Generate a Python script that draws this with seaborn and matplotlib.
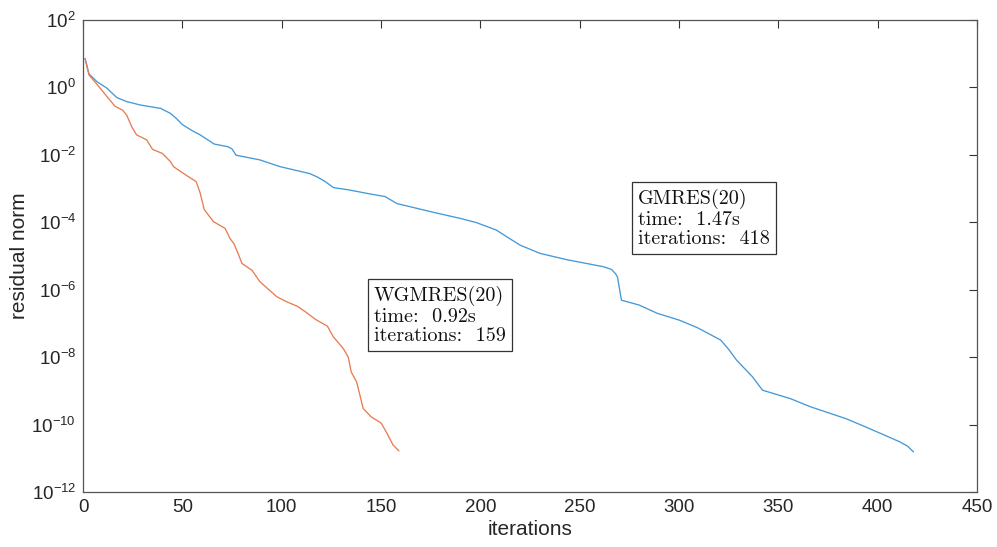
import matplotlib
matplotlib.use("Agg")
import matplotlib.pyplot as plt
import matplotlib.ticker as mticker
import seaborn as sns
import pandas as pd

# GMRES(20) residual history
gmres_iter = [1, 3, 7, 12, 17, 22, 29, 39, 44, 47, 50, 55, 59, 66, 73, 75, 77, 89, 99, 114, 118,
              122, 126, 134, 143, 152, 158, 176, 190, 198, 208, 214, 220, 230, 243, 262, 266, 268, 269,
              271, 280, 289, 300, 309, 316, 321, 325, 329, 337, 342, 356, 366, 384, 394, 411, 415, 418]
gmres_res = [7.24, 2.51, 1.48, 0.955, 0.50, 0.38, 0.30, 0.24, 0.17, 0.12, 0.079, 0.052, 0.039, 0.021,
             0.0174, 0.015, 0.0098, 0.0071, 0.0045, 0.0028, 0.0022, 1.6e-3, 1.07e-3, 9.1e-4, 7.2e-4,
             5.8e-4, 3.6e-4, 2.0e-4, 1.3e-4, 9.8e-5, 5.9e-5, 3.5e-5, 2.1e-5, 1.2e-5, 7.9e-6, 4.8e-6,
             4.0e-6, 3.0e-6, 2.4e-6, 4.9e-7, 3.5e-7, 2.0e-7, 1.26e-7, 7.6e-8, 4.6e-8, 3.2e-8, 1.7e-8,
             8.1e-9, 2.6e-9, 1.05e-9, 5.9e-10, 3.4e-10, 1.5e-10, 8.5e-11, 3.1e-11, 2.3e-11, 1.55e-11]

# WGMRES(20) residual history
wgmres_iter = [1, 3, 8, 12, 16, 20, 22, 24.5, 27, 32, 35, 40, 44, 45.5, 51, 57, 59, 61,
               65.6, 71.5, 74, 76, 78, 80, 85, 89, 97.5, 102.5, 108, 112, 117, 123, 126,
               131, 133.5, 135, 137.7, 141, 145, 150, 153, 156, 159]
wgmres_res = [7.24, 2.34, 1.05, 0.54, 0.28, 0.21, 0.15, 0.068, 0.039, 0.028, 0.0145,
              0.011, 0.0063, 0.0045, 0.0027, 0.0016, 7.2e-4, 2.4e-4, 1.05e-4, 6.6e-5,
              3.3e-5, 2.3e-5, 1.2e-5, 6.0e-6, 3.8e-6, 1.74e-6, 6.2e-7, 4.4e-7, 3.2e-7,
              2.2e-7, 1.32e-7, 8.3e-8, 4.0e-8, 1.8e-8, 1.0e-8, 3.6e-9, 1.86e-9, 3.0e-10,
              1.7e-10, 1.12e-10, 5.5e-11, 2.5e-11, 1.66e-11]

methods = ["GMRES(20)", "WGMRES(20)"]
info_gmres = "GMRES(20)\ntime:  1.47s\niterations:  418"
info_wgmres = "WGMRES(20)\ntime:  0.92s\niterations:  159"
x_ticks = [0, 50, 100, 150, 200, 250, 300, 350, 400, 450]
y_ticks = [1e-12, 1e-10, 1e-8, 1e-6, 1e-4, 1e-2, 1e0, 1e2]

df = pd.concat([
    pd.DataFrame({"iterations": gmres_iter, "residual": gmres_res, "method": methods[0]}),
    pd.DataFrame({"iterations": wgmres_iter, "residual": wgmres_res, "method": methods[1]}),
], ignore_index=True)

sns.set_theme(style="white")
plt.rcParams["font.family"] = ["Liberation Sans", "DejaVu Sans"]
plt.rcParams["mathtext.default"] = "regular"

fig = plt.figure(figsize=(9.97, 5.47), dpi=100)
ax = fig.add_axes([0.0833, 0.1005, 0.8967, 0.8629])

sns.lineplot(data=df, x="iterations", y="residual", hue="method",
             palette={"GMRES(20)": "#4499d8", "WGMRES(20)": "#e87c52"},
             linewidth=0.95, legend=False, ax=ax, sort=False, estimator=None)

ax.set_yscale("log")
ax.set_xlim(0, 450)
ax.set_ylim(1e-12, 1e2)
ax.set_xticks(x_ticks)
ax.set_yticks(y_ticks)
ax.yaxis.set_minor_locator(mticker.NullLocator())
ax.xaxis.set_minor_locator(mticker.NullLocator())
ax.tick_params(direction="in", length=6, width=0.8, color="#333333",
               top=True, right=True, labelsize=13.5, labelcolor="#262626", pad=5)
for s in ax.spines.values():
    s.set_color("#555555")
    s.set_linewidth(0.9)
    s.set_visible(True)

ax.set_xlabel("iterations", fontsize=15, color="#262626", labelpad=3)
ax.set_ylabel("residual norm", fontsize=15, color="#262626", labelpad=2)

box = dict(boxstyle="square,pad=0.3", facecolor="white", edgecolor="#333333", linewidth=0.9)
ax.text(0.3255, 0.4364, info_wgmres, transform=ax.transAxes, va="top", ha="left",
        fontsize=14.5, family="cmr10", linespacing=1.12, bbox=box, color="#111111")
ax.text(0.6208, 0.642, info_gmres, transform=ax.transAxes, va="top", ha="left",
        fontsize=14.5, family="cmr10", linespacing=1.12, bbox=box, color="#111111")

fig.savefig("out.png", dpi=100)
